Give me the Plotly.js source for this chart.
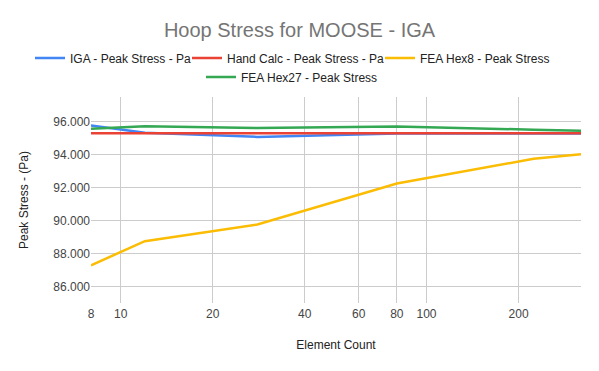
<!DOCTYPE html>
<html>
<head>
<meta charset="utf-8">
<script src="https://cdn.plot.ly/plotly-3.0.1.min.js"></script>
<style>html,body{margin:0;padding:0;background:#fff;}#chart{width:599px;height:371px;}</style>
</head>
<body>
<div id="chart"></div>
<script>
// Element counts (x, log scale)
const elementCounts = [8, 12, 28, 80, 224, 320];
// Peak stress values (Pa)
const igaPeak = [95775, 95330, 95080, 95280, 95290, 95285];
const handCalcPeak = [95300, 95300, 95300, 95300, 95300, 95300];
const feaHex8Peak = [87290, 88750, 89760, 92250, 93750, 94030];
const feaHex27Peak = [95575, 95730, 95620, 95715, 95515, 95450];
// Axis ticks
const xTickVals = [8, 10, 20, 40, 60, 80, 100, 200];
const xTickText = ['8', '10', '20', '40', '60', '80', '100', '200'];
const yTickVals = [86000, 88000, 90000, 92000, 94000, 96000];

const seriesNames = ['IGA - Peak Stress - Pa', 'Hand Calc - Peak Stress - Pa', 'FEA Hex8 - Peak Stress', 'FEA Hex27 - Peak Stress'];
const seriesValues = [igaPeak, handCalcPeak, feaHex8Peak, feaHex27Peak];
const seriesColors = ['#4285F4', '#EA4335', '#FBBC04', '#34A853'];
const legendIds = ['legend', 'legend2', 'legend3', 'legend4'];

const traces = seriesValues.map((vals, i) => ({
  x: elementCounts,
  y: vals,
  name: seriesNames[i],
  type: 'scatter',
  mode: 'lines',
  legend: legendIds[i],
  line: {color: seriesColors[i], width: 2.5},
  hoverinfo: 'x+y+name'
}));

const font = 'Liberation Sans, Arial, sans-serif';
// legend placement (container pixels): text start x, row centre y
const legendPlace = [[70, 58], [227, 58], [420, 58], [241, 77]];
function legendAt(p) {
  return {
    orientation: 'h',
    xref: 'container', x: (p[0] - 40) / 599, xanchor: 'left',
    yref: 'container', y: 1 - p[1] / 371, yanchor: 'middle',
    font: {family: font, size: 12, color: '#222222'},
    bgcolor: 'rgba(0,0,0,0)',
    itemwidth: 30
  };
}
const layout = {
  width: 599,
  height: 371,
  margin: {l: 91, r: 18, t: 97, b: 68},
  paper_bgcolor: '#ffffff',
  plot_bgcolor: '#ffffff',
  separators: ',.',
  font: {family: font, size: 12, color: '#444444'},
  title: {
    text: 'Hoop Stress for MOOSE - IGA',
    font: {family: font, size: 20, color: '#757575'},
    x: 0.5, xanchor: 'center', xref: 'container',
    y: 1 - 30 / 371, yanchor: 'middle', yref: 'container'
  },
  showlegend: true,
  legend: legendAt(legendPlace[0]),
  legend2: legendAt(legendPlace[1]),
  legend3: legendAt(legendPlace[2]),
  legend4: legendAt(legendPlace[3]),
  xaxis: {
    type: 'log',
    range: [Math.log10(8), Math.log10(320)],
    tickvals: xTickVals,
    ticktext: xTickText,
    showgrid: true,
    gridcolor: '#cccccc',
    gridwidth: 1,
    zeroline: false,
    showline: false,
    ticks: 'outside',
    ticklen: 0,
    tickfont: {family: font, size: 12, color: '#444444'},
    title: {text: 'Element Count', font: {family: font, size: 12, color: '#222222'}, standoff: 20}
  },
  yaxis: {
    range: [85000, 97500],
    tickvals: yTickVals,
    tickformat: ',d',
    showgrid: true,
    gridcolor: '#cccccc',
    gridwidth: 1,
    zeroline: false,
    showline: false,
    tickfont: {family: font, size: 12, color: '#444444'},
    title: {text: 'Peak Stress - (Pa)', font: {family: font, size: 12, color: '#222222'}, standoff: 22}
  }
};

Plotly.newPlot('chart', traces, layout, {displayModeBar: false, staticPlot: true});
</script>
</body>
</html>
